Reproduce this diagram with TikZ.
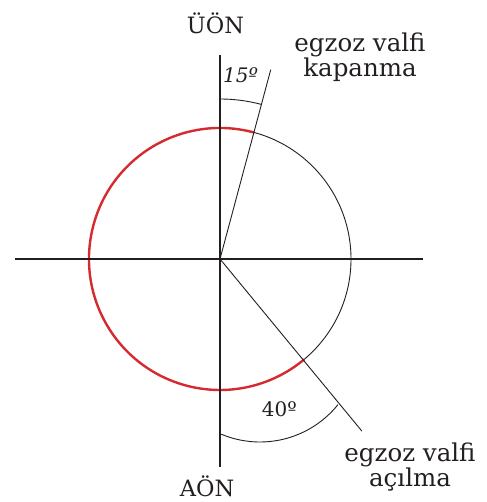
\documentclass[tikz,border=0pt]{standalone}
\usepackage{fontspec}
\setmainfont{DejaVu Serif}
\usetikzlibrary{calc}
\definecolor{axisgray}{HTML}{231F20}
\definecolor{cyclered}{HTML}{D52A30}
\begin{document}
\begin{tikzpicture}[x=1pt,y=1pt,
  axisline/.style={line width=1.8pt, draw=axisgray},
  fineline/.style={line width=0.9pt, draw=axisgray},
  redarc/.style={line width=2.4pt, draw=cyclered},
  lbl/.style={font=\fontsize{22.5}{23.4}\selectfont, align=center, inner sep=0pt, text=axisgray},
  vlbl/.style={font=\fontsize{24.5}{23}\selectfont, align=center, inner sep=0pt, text=axisgray}]
\useasboundingbox (0,0) rectangle (486,502);
\coordinate (C) at (220,243);
\coordinate (L) at (15,243);
\coordinate (R) at (423,243);
\coordinate (T) at (220,447);
\coordinate (B) at (220,35);
\coordinate (O2) at (260,160);
% circle
\draw[fineline] (C) circle[radius=131];
\draw[redarc] ($(C)+(75:131)$) arc[start angle=75, end angle=310, radius=131];
% axes
\draw[axisline] (L) -- (R);
\draw[axisline] (T) -- (B);
% valve lines
\draw[fineline] (C) -- ++(75:196) coordinate (E15);
\draw[fineline] (C) -- ++(-50.5:223) coordinate (E40);
% angle arcs
\draw[fineline] ($(C)+(90:160)$) arc[start angle=90, end angle=75, radius=160];
\draw[fineline] ($(O2)+(247.2:100)$) arc[start angle=247.2, end angle=321.2, radius=100];
% labels
\node[lbl, anchor=base] (uon) at (215.5,468.7) {ÜÖN};
\node[lbl, anchor=base] (aon) at (207,5.3) {AÖN};
\node[vlbl, anchor=base] (kap) at (360,425.3) {egzoz valfi\\kapanma};
\node[vlbl, anchor=base] (acl) at (410,15) {egzoz valfi\\açılma};
\node[lbl, anchor=base west, font=\fontsize{20}{22}\selectfont\itshape] (a15) at (223,419) {15º};
\node[lbl, anchor=base west, font=\fontsize{20}{22}\selectfont] (a40) at (261.7,85.3) {40º};
\end{tikzpicture}
\end{document}
